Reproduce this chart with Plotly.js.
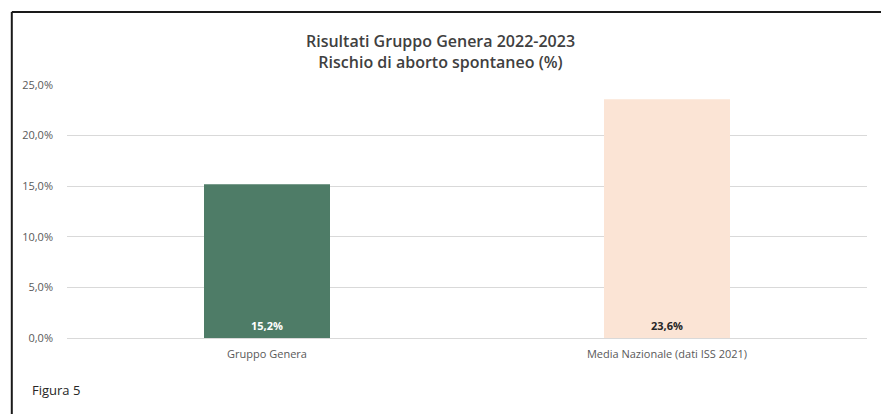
<!DOCTYPE html>
<html>
<head>
<meta charset="utf-8">
<script src="https://cdn.plot.ly/plotly-3.0.1.min.js"></script>
<style>
html,body{margin:0;padding:0;background:#fff;}
#chart{width:881px;height:416px;}
</style>
</head>
<body>
<div id="chart"></div>
<script>
var categories = ["Gruppo Genera", "Media Nazionale (dati ISS 2021)"];
var values = [15.2, 23.6];
var barColors = ["#4e7c67", "#fbe4d5"];
var labelColors = ["#ffffff", "#262626"];
var tickValues = [0, 5, 10, 15, 20, 25];
var titleLines = ["Risultati Gruppo Genera 2022-2023", "Rischio di aborto spontaneo (%)"];
var figureLabel = "Figura 5";

function fmt(v){ return v.toFixed(1).replace('.', ',') + '%'; }

var trace = {
  type: 'bar',
  x: categories,
  y: values,
  width: 0.315,
  marker: {color: barColors, line: {width: 0}},
  hoverinfo: 'none'
};

var annotations = categories.map(function(c, i){
  return {
    x: c, y: 0, xref: 'x', yref: 'y',
    text: '<b>' + fmt(values[i]) + '</b>',
    showarrow: false, yanchor: 'bottom', yshift: 3,
    font: {family: 'Open Sans, sans-serif', size: 11, color: labelColors[i]}
  };
});
annotations.push({
  xref: 'paper', yref: 'paper', x: -0.046, y: -0.2055,
  xanchor: 'left', yanchor: 'middle', showarrow: false,
  text: figureLabel,
  font: {family: 'Open Sans, sans-serif', size: 13, color: '#262626'}
});

var layout = {
  width: 881, height: 416,
  margin: {l: 67, r: 14, t: 85, b: 78},
  paper_bgcolor: '#ffffff', plot_bgcolor: '#ffffff',
  separators: ',.',
  showlegend: false,
  title: {
    text: titleLines.join('<br>'),
    x: 0.5, xanchor: 'center', y: 0.887, yanchor: 'top',
    font: {family: 'Open Sans, sans-serif', size: 16, color: '#404040', weight: 600}
  },
  xaxis: {
    type: 'category',
    showgrid: false, zeroline: false, showline: false,
    ticks: '', ticklabelstandoff: 8,
    tickfont: {family: 'Open Sans, sans-serif', size: 11, color: '#595959'},
    fixedrange: true
  },
  yaxis: {
    range: [0, 25], tickvals: tickValues,
    ticktext: tickValues.map(fmt),
    showgrid: true, gridcolor: '#d9d9d9', gridwidth: 1,
    zeroline: true, zerolinecolor: '#d9d9d9', zerolinewidth: 1,
    showline: false, ticks: '', ticklabelstandoff: 13,
    tickfont: {family: 'Open Sans, sans-serif', size: 11, color: '#595959'},
    fixedrange: true
  },
  annotations: annotations,
  shapes: [
    {type: 'line', xref: 'paper', yref: 'paper', x0: -0.069, x1: 1.02, y0: 1.289, y1: 1.289, line: {color: '#1a1a1a', width: 2}},
    {type: 'line', xref: 'paper', yref: 'paper', x0: -0.069, x1: -0.069, y0: 1.289, y1: -0.3, line: {color: '#1a1a1a', width: 2}}
  ]
};

Plotly.newPlot('chart', [trace], layout, {displayModeBar: false, staticPlot: true});
</script>
</body>
</html>
